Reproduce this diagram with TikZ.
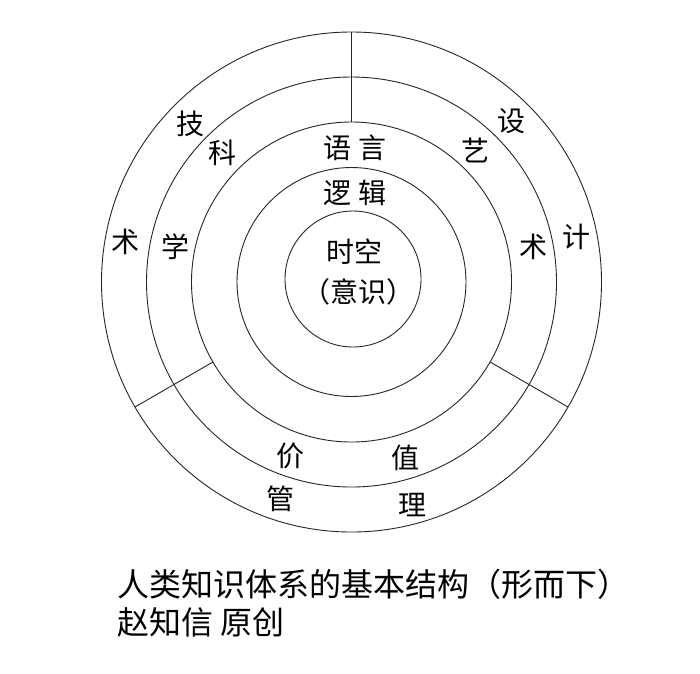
\documentclass[tikz,border=0pt]{standalone}
\usepackage{fontspec}
\setmainfont{Noto Sans CJK SC}
\begin{document}
\begin{tikzpicture}[x=1pt,y=-1pt,
  ring/.style={draw=black!85,line width=0.9pt},
  spoke/.style={draw=black!85,line width=0.9pt},
  lab/.style={inner sep=0pt,font=\fontsize{28}{32}\selectfont},
  captext/.style={inner sep=0pt,anchor=west,font=\fontsize{32}{36}\selectfont}]
\useasboundingbox[fill=white] (0,0) rectangle (700,673);
\coordinate (c) at (351.5,282);
\coordinate (ci) at (353,279);
\draw[ring] (c) circle[radius=250pt];
\draw[ring] (c) circle[radius=205pt];
\draw[ring] (c) circle[radius=160pt];
\draw[ring] (c) circle[radius=114.5pt];
\draw[ring] (ci) circle[radius=68pt];
% spokes
\coordinate (tA) at (351.5,122);
\coordinate (tB) at (351.5,32);
\coordinate (lA) at (212.9,362);
\coordinate (lB) at (135,407);
\coordinate (rA) at (490.1,362);
\coordinate (rB) at (568,407);
\draw[spoke] (tA) -- (tB);
\draw[spoke] (lA) -- (lB);
\draw[spoke] (rA) -- (rB);
% labels
\node[lab] (ji) at (190.6,124) {技};
\node[lab] (ke) at (222,152.7) {科};
\node[lab] (yuyan) at (354.5,148) {语\hspace{7pt}言};
\node[lab] (yi) at (475,150) {艺};
\node[lab] (she) at (511,120.7) {设};
\node[lab] (luoji) at (354.5,192.7) {逻\hspace{7pt}辑};
\node[lab] (shuL) at (125.6,241.7) {术};
\node[lab] (xue) at (175,246.7) {学};
\node[lab] (shikong) at (354,251.7) {时空};
\node[lab] (yishi) at (358,291.7) {（意识）};
\node[lab] (shuR) at (533.6,246.7) {术};
\node[lab] (ji2) at (576,237) {计};
\node[lab] (jia) at (290.6,456) {价};
\node[lab] (zhi) at (405.8,458) {值};
\node[lab] (guan) at (280,499) {管};
\node[lab] (li) at (412.5,505) {理};
% caption
\node[captext] (cap1) at (117,584) {人类知识体系的基本结构（形而下）};
\node[captext] (cap2) at (117,622.5) {赵知信 原创};
\end{tikzpicture}
\end{document}
